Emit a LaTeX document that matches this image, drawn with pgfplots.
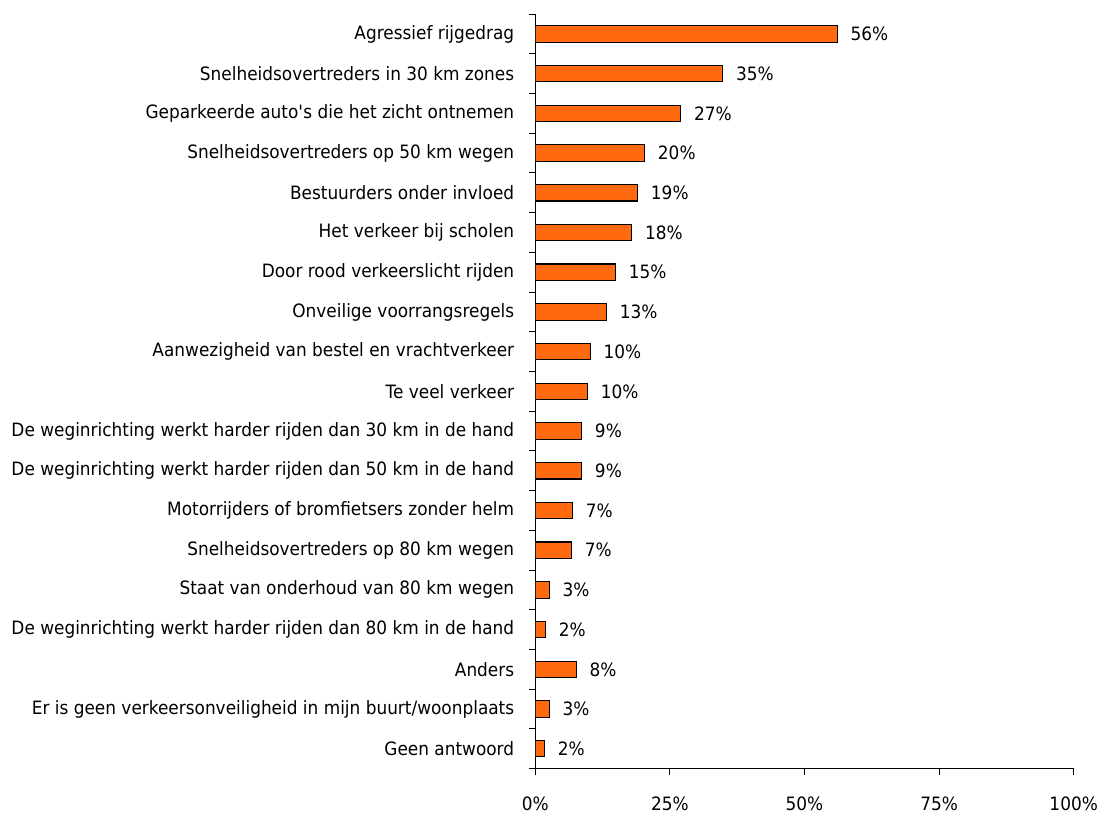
\documentclass[border=0pt]{standalone}
\usepackage{fontspec}
\setmainfont{DejaVu Sans}[FakeStretch=0.92]
\usepackage{pgfplots}
\pgfplotsset{compat=1.18}
\definecolor{barorange}{HTML}{FF6A10}
\begin{document}
\fontsize{13.7}{15}\selectfont
\begin{tikzpicture}
\begin{axis}[
  name=main,
  xbar,
  scale only axis,
  width=401pt, height=562pt,
  bar width=12.2pt,
  xmin=0, xmax=100,
  ymin=-0.5, ymax=18.5,
  y dir=reverse,
  axis x line*=bottom,
  axis y line*=left,
  axis line style={line width=0.8pt},
  xtick={0,25,50,75,100},
  xticklabels={0\%,25\%,50\%,75\%,100\%},
  ytick={0,...,18},
  yticklabels={
    Agressief rijgedrag,
    Snelheidsovertreders in 30 km zones,
    Geparkeerde auto\textquotesingle s die het zicht ontnemen,
    Snelheidsovertreders op 50 km wegen,
    Bestuurders onder invloed,
    Het verkeer bij scholen,
    Door rood verkeerslicht rijden,
    Onveilige voorrangsregels,
    Aanwezigheid van bestel en vrachtverkeer,
    Te veel verkeer,
    De weginrichting werkt harder rijden dan 30 km in de hand,
    De weginrichting werkt harder rijden dan 50 km in de hand,
    Motorrijders of bromfietsers zonder helm,
    Snelheidsovertreders op 80 km wegen,
    Staat van onderhoud van 80 km wegen,
    De weginrichting werkt harder rijden dan 80 km in de hand,
    Anders,
    Er is geen verkeersonveiligheid in mijn buurt/woonplaats,
    Geen antwoord},
  minor ytick={-0.5,0.5,...,18.5},
  major y tick style={draw=none},
  minor tick length=5pt,
  major tick length=5pt,
  tick align=outside,
  tick style={black, line width=0.8pt},
  yticklabel style={xshift=-6pt, font=\fontsize{13.7}{15}\selectfont},
  xticklabel style={yshift=-11pt, font=\fontsize{13.7}{15}\selectfont},
  point meta=explicit symbolic,
  nodes near coords,
  nodes near coords style={anchor=west, xshift=5pt, font=\fontsize{13.7}{15}\selectfont},
]
\addplot[fill=barorange, draw=black, line width=0.8pt] coordinates {
  (56.1,0) [56\%]
  (34.8,1) [35\%]
  (27.0,2) [27\%]
  (20.3,3) [20\%]
  (19.0,4) [19\%]
  (17.9,5) [18\%]
  (14.9,6) [15\%]
  (13.2,7) [13\%]
  (10.2,8) [10\%]
  (9.7,9) [10\%]
  (8.6,10) [9\%]
  (8.6,11) [9\%]
  (6.9,12) [7\%]
  (6.7,13) [7\%]
  (2.6,14) [3\%]
  (1.9,15) [2\%]
  (7.6,16) [8\%]
  (2.6,17) [3\%]
  (1.7,18) [2\%]
};
\end{axis}
% white margin above the axis and to the left of the labels, as in the reference
\path ([yshift=10.5pt]main.north) (current bounding box.west) ++(-4pt,0);
\end{tikzpicture}
\end{document}
